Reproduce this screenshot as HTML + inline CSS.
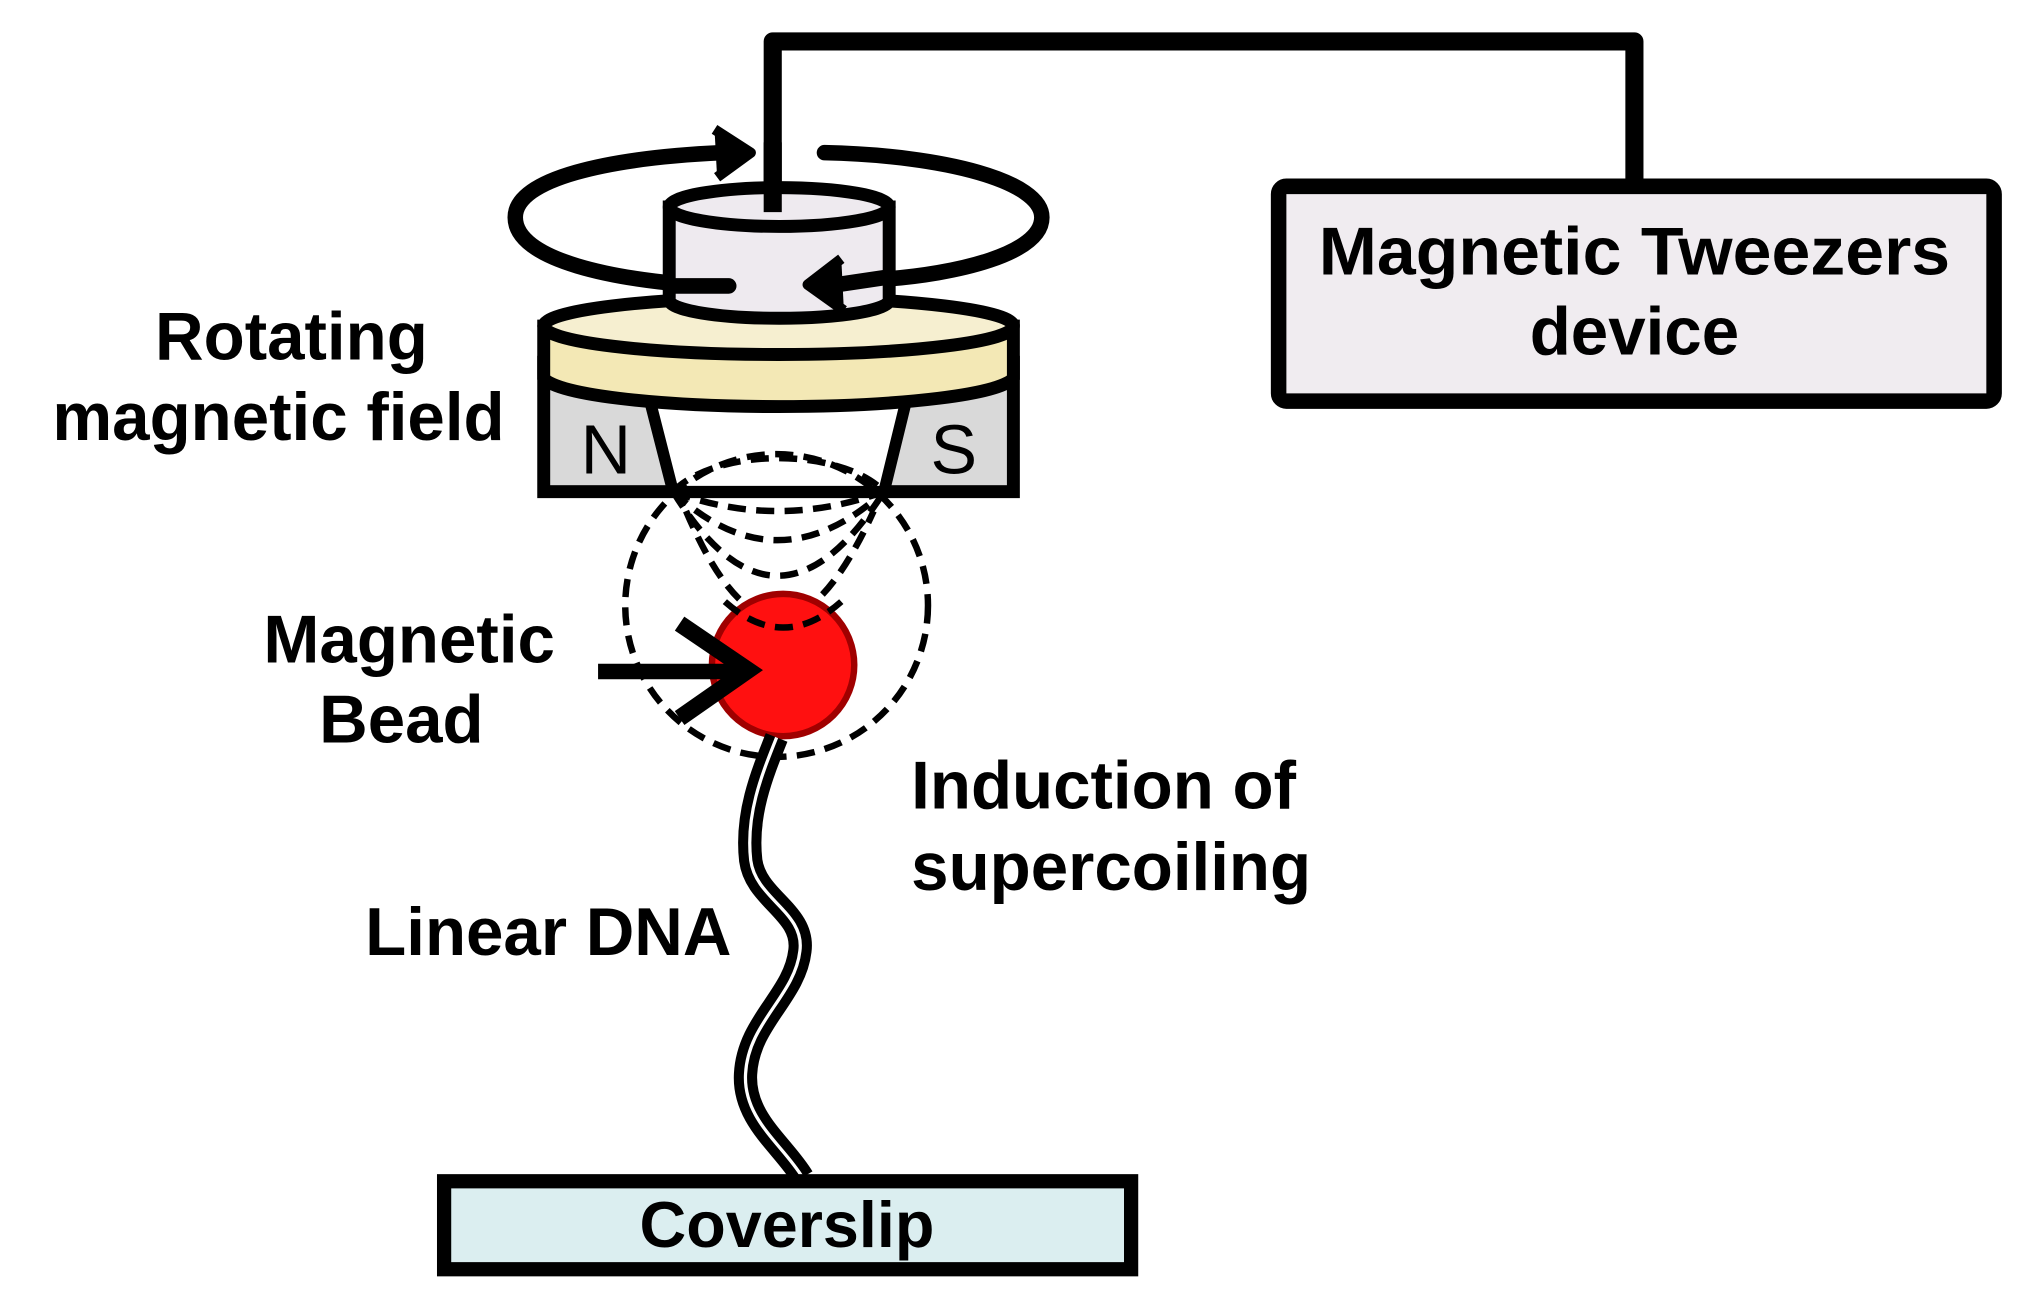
<!DOCTYPE html>
<html><head><meta charset="utf-8"><style>html,body{margin:0;padding:0;background:#fff}svg{display:block}</style></head>
<body>
<svg width="2019" height="1299" viewBox="0 0 1560 1004" xmlns="http://www.w3.org/2000/svg" font-family="Liberation Sans, Arial, sans-serif" font-weight="bold">
<rect width="1560" height="1004" fill="#fff"/>
<path d="M597,160 V32 H1263 V143" fill="none" stroke="#000" stroke-width="14" stroke-linejoin="round"/>
<rect x="988" y="144" width="553" height="166" rx="6" fill="#f0ecf0" stroke="#000" stroke-width="12"/>
<text x="1263" y="212" font-size="52" text-anchor="middle" textLength="488" lengthAdjust="spacingAndGlyphs">Magnetic Tweezers</text>
<text x="1263" y="274" font-size="52" text-anchor="middle">device</text>
<path d="M565,222 C470,218 398,200 398,168 C398,138 470,122 558,118" fill="none" stroke="#000" stroke-width="12" stroke-linecap="round"/>
<path d="M552,100 L580,118 L554,137" fill="#000" stroke="#000" stroke-width="8" stroke-linejoin="round"/>
<path d="M637,118 C730,120 805,140 805,168 C805,196 740,212 680,216" fill="none" stroke="#000" stroke-width="12" stroke-linecap="round"/>
<rect x="420" y="280" width="363" height="100" fill="#d9d9d9" stroke="#000" stroke-width="10"/>
<path d="M497,290 L520,380 L683,380 L705,290 Z" fill="#fff" stroke="#000" stroke-width="9" stroke-linejoin="round"/>
<text x="468" y="366" font-size="54" font-weight="normal" text-anchor="middle">N</text>
<text x="737" y="366" font-size="54" font-weight="normal" text-anchor="middle">S</text>
<path d="M420,252 V292 A182,24 0 0 0 783,292 V252 Z" fill="#f3e8b5" stroke="#000" stroke-width="10"/>
<ellipse cx="601.5" cy="252" rx="181.5" ry="22" fill="#f6efd0" stroke="#000" stroke-width="10"/>
<path d="M517,160 V232 A85,14 0 0 0 687,232 V160 Z" fill="#eeeaef" stroke="#000" stroke-width="10"/>
<ellipse cx="602" cy="160" rx="85" ry="15" fill="#eeeaef" stroke="#000" stroke-width="10"/>
<line x1="597" y1="110" x2="597" y2="164" stroke="#000" stroke-width="14"/>
<line x1="517" y1="221" x2="563" y2="221" stroke="#000" stroke-width="12" stroke-linecap="round"/>
<path d="M687,214 L640,221" stroke="#000" stroke-width="12" stroke-linecap="round"/>
<path d="M650,200 L624,220 L652,240" fill="#000" stroke="#000" stroke-width="8" stroke-linejoin="round"/>
<g fill="none" stroke="#000" stroke-width="5" stroke-dasharray="14,8">
<circle cx="600" cy="468" r="117"/>
<path d="M520,380 A90,45 0 0 1 683,380"/>
<path d="M520,380 Q600,410 683,380"/>
<path d="M520,380 Q600,455 683,380"/>
<path d="M520,380 Q600,510 683,380"/>
<path d="M530,395 Q600,560 675,395"/>
</g>
<circle cx="605" cy="514" r="55" fill="#ff1010" stroke="#a00000" stroke-width="5"/>
<g fill="none" stroke="#000" stroke-width="5" stroke-dasharray="14,8">
<path d="M560,465 Q605,505 650,465"/>
</g>
<line x1="462" y1="519" x2="578" y2="519" stroke="#000" stroke-width="12"/>
<path d="M525,482 L578,518 L525,555" fill="none" stroke="#000" stroke-width="13"/>
<path d="M600,570 C588,600 576,630 580,665 C584,695 622,705 618,735 C614,770 578,790 576,830 C574,865 605,885 620,910" fill="none" stroke="#000" stroke-width="18"/>
<path d="M600,570 C588,600 576,630 580,665 C584,695 622,705 618,735 C614,770 578,790 576,830 C574,865 605,885 620,910" fill="none" stroke="#fff" stroke-width="2.5"/>
<rect x="343" y="913" width="531" height="68" fill="#dbeef0" stroke="#000" stroke-width="11"/>
<text x="608" y="964" font-size="50" text-anchor="middle">Coverslip</text>
<g font-size="52">
<text x="225" y="278" text-anchor="middle">Rotating</text>
<text x="215" y="340" text-anchor="middle">magnetic field</text>
<text x="316" y="512" text-anchor="middle">Magnetic</text>
<text x="310" y="574" text-anchor="middle">Bead</text>
<text x="704" y="625">Induction of</text>
<text x="704" y="688">supercoiling</text>
<text x="282" y="738">Linear DNA</text>
</g>
</svg>
</body></html>
